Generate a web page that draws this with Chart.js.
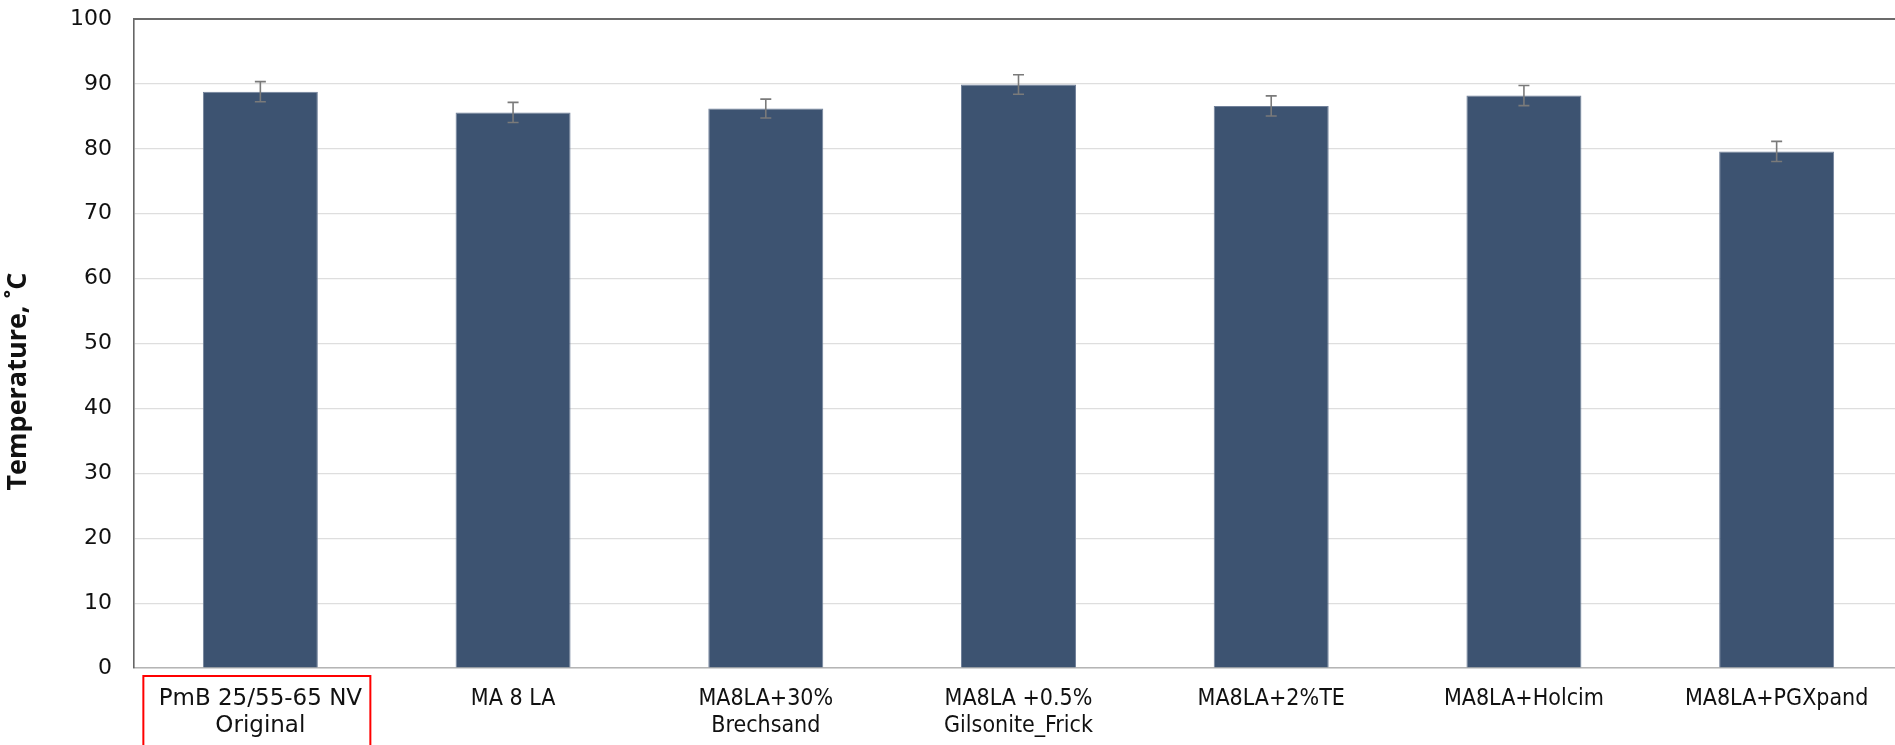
<!DOCTYPE html>
<html>
<head>
<meta charset="utf-8">
<script src="https://cdn.jsdelivr.net/npm/chart.js@4/dist/chart.umd.min.js"></script>
<style>
  html, body { margin: 0; padding: 0; background: #ffffff; overflow: hidden; }
  #wrap { position: relative; width: 1920px; height: 745px; }
</style>
</head>
<body>
<div id="wrap"><canvas id="chart"></canvas></div>
<script>
// Binder samples (x categories)
const categories = [
  ["PmB 25/55-65 NV", "Original"],
  "MA 8 LA",
  ["MA8LA+30%", "Brechsand"],
  ["MA8LA +0.5%", "Gilsonite_Frick"],
  "MA8LA+2%TE",
  "MA8LA+Holcim",
  "MA8LA+PGXpand"
];
// Mean temperature per sample, °C
const temperatures = [88.8, 85.6, 86.2, 89.9, 86.6, 88.2, 79.6];
// Standard deviation per sample, °C
const deviations = [1.55, 1.55, 1.45, 1.5, 1.55, 1.55, 1.55];
// Y axis range and step
const yMin = 0, yMax = 100, yStep = 10;
const yTitle = "Temperature, ˚C";

// Error whiskers on top of each bar
const errorBars = {
  id: 'errorBars',
  afterDatasetsDraw(chart) {
    const meta = chart.getDatasetMeta(0);
    const ys = chart.scales.y;
    const ctx = chart.ctx;
    ctx.save();
    ctx.strokeStyle = '#7a7a7a';
    ctx.lineWidth = 1.6;
    meta.data.forEach((bar, i) => {
      const v = temperatures[i], e = deviations[i];
      const top = ys.getPixelForValue(v + e);
      const bot = ys.getPixelForValue(v - e);
      const x = bar.x, cap = 5.5;
      ctx.beginPath();
      ctx.moveTo(x, top); ctx.lineTo(x, bot);
      ctx.moveTo(x - cap, top); ctx.lineTo(x + cap, top);
      ctx.moveTo(x - cap, bot); ctx.lineTo(x + cap, bot);
      ctx.stroke();
    });
    ctx.restore();
  }
};

// Top frame line, y axis title and the red highlight around the reference sample label
const frame = {
  id: 'frame',
  afterDraw(chart) {
    const ctx = chart.ctx;
    const a = chart.chartArea;
    ctx.save();
    ctx.strokeStyle = '#6b6b6b';
    ctx.lineWidth = 2;
    ctx.beginPath();
    ctx.moveTo(a.left - 1, a.top);
    ctx.lineTo(a.right, a.top);
    ctx.stroke();

    const cx = chart.scales.x.getPixelForValue(0);
    ctx.strokeStyle = '#ff0000';
    ctx.lineWidth = 2;
    ctx.strokeRect(cx - 117, a.bottom + 8, 227, chart.height);

    ctx.translate(18, (a.top + a.bottom) / 2 + 38);
    ctx.rotate(-Math.PI / 2);
    ctx.fillStyle = '#111111';
    ctx.font = 'bold 27px "Open Sans", sans-serif';
    ctx.textAlign = 'center';
    ctx.textBaseline = 'middle';
    ctx.fillText(yTitle, 0, 0);
    ctx.restore();
  }
};

new Chart(document.getElementById('chart'), {
  type: 'bar',
  data: {
    labels: categories,
    datasets: [{
      data: temperatures,
      backgroundColor: '#3d5371',
      borderColor: '#71819a',
      borderWidth: 1,
      categoryPercentage: 1,
      barPercentage: 0.455
    }]
  },
  options: {
    responsive: true,
    maintainAspectRatio: false,
    animation: false,
    layout: { padding: { top: 19, right: 17, left: 0, bottom: 0 } },
    plugins: { legend: { display: false }, tooltip: { enabled: false } },
    scales: {
      x: {
        grid: { display: false },
        border: { display: true, color: '#b5b5b5', width: 1.5 },
        ticks: {
          color: '#111111',
          maxRotation: 0,
          autoSkip: false,
          padding: 10,
          font: (c) => c.index === 0
            ? { family: '"DejaVu Sans", sans-serif', size: 23, lineHeight: 1.17 }
            : { family: '"DejaVu Sans Condensed", "Liberation Sans", sans-serif', size: 23, lineHeight: 1.17 }
        },
        afterFit(scale) { scale.height = 77; }
      },
      y: {
        min: yMin,
        max: yMax,
        ticks: {
          stepSize: yStep,
          color: '#111111',
          padding: 22,
          font: { family: '"DejaVu Sans", sans-serif', size: 22 }
        },
        grid: { color: '#dedede', lineWidth: 1.2, drawTicks: false },
        border: { display: true, color: '#666666', width: 1.6 },
        afterFit(scale) {
          scale.width = 134;
          scale.paddingTop = 0;
          scale.paddingBottom = 0;
        }
      }
    }
  },
  plugins: [errorBars, frame]
});
</script>
</body>
</html>
